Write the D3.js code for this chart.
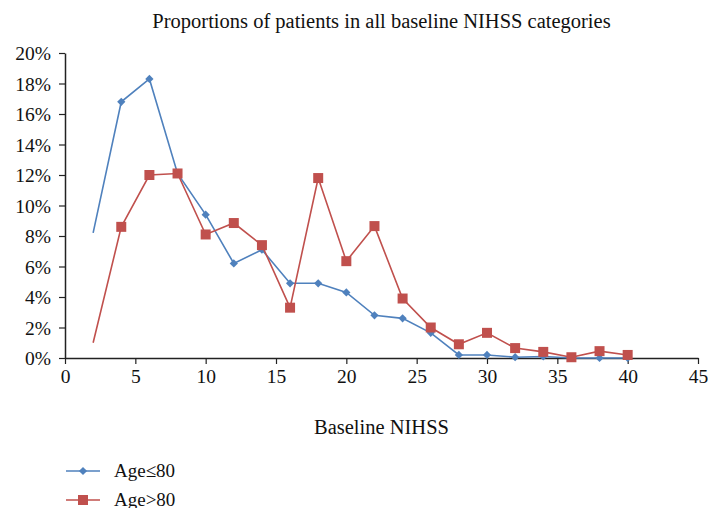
<!DOCTYPE html>
<html>
<head>
<meta charset="utf-8">
<script src="https://cdn.jsdelivr.net/npm/d3@7"></script>
<style>
  body { margin: 0; background: #fff; }
  text { font-family: "Liberation Serif", "DejaVu Serif", serif; fill: #111; }
</style>
</head>
<body>
<div id="chart"></div>
<script>
// baseline NIHSS score
const nihss = [2, 4, 6, 8, 10, 12, 14, 16, 18, 20, 22, 24, 26, 28, 30, 32, 34, 36, 38, 40];
// proportion of patients, percent
const ageLe80 = [8.2, 16.8, 18.3, 12.1, 9.4, 6.2, 7.1, 4.9, 4.9, 4.3, 2.8, 2.6, 1.65, 0.2, 0.2, 0.05, 0.1, 0, 0, 0];
const ageGt80 = [1.0, 8.6, 12.0, 12.1, 8.1, 8.85, 7.4, 3.3, 11.8, 6.35, 8.65, 3.9, 2.0, 0.9, 1.65, 0.65, 0.4, 0.05, 0.45, 0.2];
const xTicks = [0, 5, 10, 15, 20, 25, 30, 35, 40, 45];
const yTicks = [0, 2, 4, 6, 8, 10, 12, 14, 16, 18, 20];

const owidth = 708, oheight = 508;
const margin = {top: 53, left: 65},
      width = 698 - margin.left,
      height = 358 - margin.top;

const svg = d3.select("#chart").append("svg")
    .attr("width", owidth)
    .attr("height", oheight);

const g = svg.append("g")
    .attr("transform", "translate(" + margin.left + "," + margin.top + ")");

const xScale = d3.scaleLinear().domain([0, 45]).range([0, width]);
const yScale = d3.scaleLinear().domain([0, 20]).range([height, 0]);

const xAxis = g.append("g")
    .attr("transform", "translate(0," + height + ")")
    .call(d3.axisBottom(xScale).tickValues(xTicks).tickSize(6).tickSizeOuter(0).tickPadding(5));

const yAxis = g.append("g")
    .call(d3.axisLeft(yScale).tickValues(yTicks).tickSize(6).tickSizeOuter(0)
      .tickFormat(d => d + "%").tickPadding(8));

[xAxis, yAxis].forEach(a => {
  a.select(".domain").attr("stroke", "#222").attr("stroke-width", 1.5);
  a.selectAll(".tick line").attr("stroke", "#222").attr("stroke-width", 1.2);
  a.selectAll(".tick text")
    .style("font-family", '"Liberation Serif", "DejaVu Serif", serif')
    .style("font-size", "19.5px")
    .attr("fill", "#111");
});
yAxis.selectAll(".tick text").attr("dy", "0.35em");

// diamond = square turned 45 degrees, like the spreadsheet marker
const series = [
  {name: "Age\u226480", values: ageLe80, color: "#4F81BD", shape: d3.symbolSquare, size: 34, rot: 45},
  {name: "Age>80", values: ageGt80, color: "#C0504D", shape: d3.symbolSquare, size: 100, rot: 0}
];

const line = d3.line()
    .x(d => xScale(d[0]))
    .y(d => yScale(d[1]));

series.forEach(s => {
  const pts = nihss.map((x, i) => [x, s.values[i]]);
  g.append("path")
    .datum(pts)
    .attr("fill", "none")
    .attr("stroke", s.color)
    .attr("stroke-width", 1.6)
    .attr("d", line);
  // the first point (NIHSS 2) has no marker
  g.append("g").selectAll("path")
    .data(pts.slice(1))
    .enter()
    .append("path")
    .attr("d", d3.symbol().type(s.shape).size(s.size))
    .attr("transform", d => "translate(" + xScale(d[0]) + "," + yScale(d[1]) + ") rotate(" + s.rot + ")")
    .attr("fill", s.color);
});

// title
svg.append("text")
    .attr("x", margin.left + width / 2)
    .attr("y", 28)
    .attr("text-anchor", "middle")
    .style("font-size", "20.5px")
    .text("Proportions of patients in all baseline NIHSS categories");

// x axis title
svg.append("text")
    .attr("x", margin.left + width / 2)
    .attr("y", 434)
    .attr("text-anchor", "middle")
    .style("font-size", "20.5px")
    .text("Baseline NIHSS");

// legend
const legend = svg.append("g");
series.forEach((s, i) => {
  const ly = 471 + i * 29;
  legend.append("line")
    .attr("x1", 66).attr("x2", 100)
    .attr("y1", ly).attr("y2", ly)
    .attr("stroke", s.color).attr("stroke-width", 1.6);
  legend.append("path")
    .attr("d", d3.symbol().type(s.shape).size(s.size))
    .attr("transform", "translate(83," + ly + ") rotate(" + s.rot + ")")
    .attr("fill", s.color);
  legend.append("text")
    .attr("x", 114)
    .attr("y", ly + 6)
    .style("font-size", "19px")
    .text(s.name);
});
</script>
</body>
</html>
